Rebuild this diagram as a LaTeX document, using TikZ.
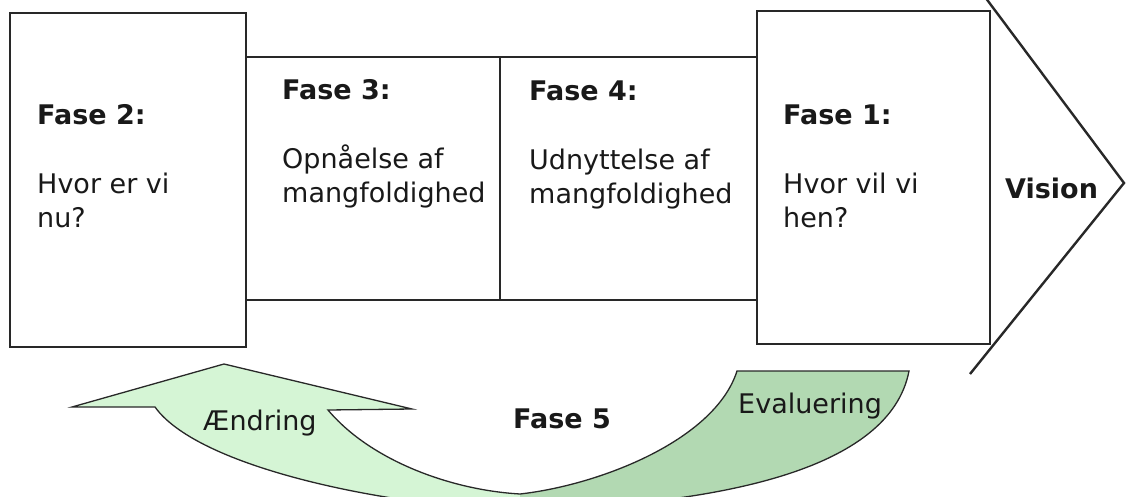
\documentclass[tikz,border=0pt]{standalone}
\usepackage{fontspec}
\setmainfont{DejaVu Sans}
\definecolor{lightleaf}{RGB}{213,245,213}
\definecolor{darkleaf}{RGB}{178,217,178}
\definecolor{inkline}{RGB}{40,40,40}

\tikzset{
  phasebox/.style={draw=inkline, line width=1.8pt},
  phasetext/.style={anchor=base west, inner sep=0pt, align=left,
    text=black!90, font=\fontsize{27}{34}\selectfont},
  boldtext/.style={phasetext, font=\fontsize{27}{34}\selectfont\bfseries},
}

\begin{document}
\begin{tikzpicture}[x=1pt,y=-1pt]
  \useasboundingbox (0,0) rectangle (1126,497);

  \begin{scope}
    \clip (0,0) rectangle (1126,497);

    % boxes
    \draw[phasebox] (246,57) rectangle (500,300);
    \draw[phasebox] (500,57) rectangle (757,300);
    \draw[phasebox] (10,13) rectangle (246,347);
    \draw[phasebox] (757,11) rectangle (990,344);

    % vision arrow head
    \draw[line width=2.4pt, inkline] (985,-3) -- (1124,183) -- (970,374);

    % bent arrow
    \def\bentarrow{(737,371) -- (909,371)
      .. controls (890,470) and (720,505) .. (520,510)
      .. controls (400,508) and (200,470) .. (155,407)
      -- (72,407) -- (224,364) -- (412,409) -- (328,410)
      .. controls (370,460) and (450,490) .. (520,494)
      .. controls (600,485) and (715,440) .. (737,371) -- cycle}
    \fill[lightleaf] \bentarrow;
    \begin{scope}
      \clip (520,300) rectangle (1126,520);
      \fill[darkleaf] \bentarrow;
    \end{scope}
    \draw[line width=1.3pt, inkline] \bentarrow;
  \end{scope}

  % texts (base anchor = last line)
  \node[phasetext] (fase2) at (37,227) {\textbf{Fase 2:}\\[35pt]Hvor er vi\\nu?};
  \node[phasetext] (fase3) at (282,203) {\textbf{Fase 3:}\\[35pt]Opnåelse af\\mangfoldighed};
  \node[phasetext] (fase4) at (529,204) {\textbf{Fase 4:}\\[35pt]Udnyttelse af\\mangfoldighed};
  \node[phasetext] (fase1) at (783,227) {\textbf{Fase 1:}\\[35pt]Hvor vil vi\\hen?};
  \node[boldtext] (vision) at (1005,198) {Vision};
  \node[boldtext] (fase5) at (513,428) {Fase 5};
  \node[phasetext] (aendring) at (203,430) {Ændring};
  \node[phasetext] (evaluering) at (738,413) {Evaluering};
\end{tikzpicture}
\end{document}
